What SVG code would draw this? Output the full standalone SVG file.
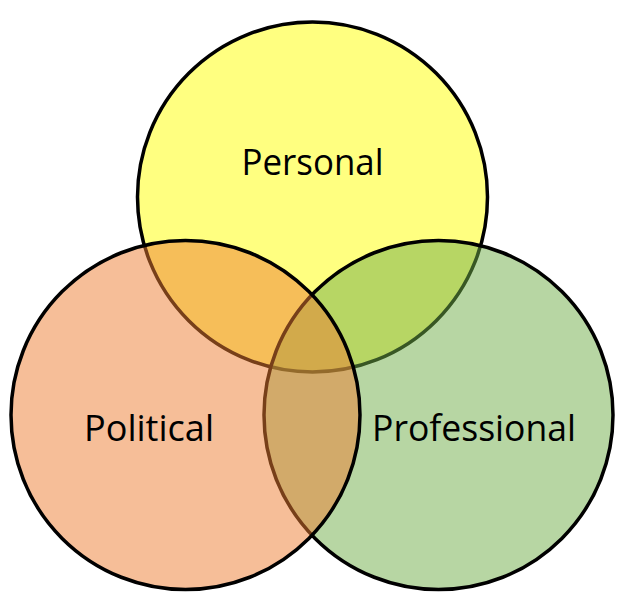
<svg xmlns="http://www.w3.org/2000/svg" width="628" height="614" viewBox="0 0 628 614">
<style>
.c{stroke:#000;stroke-width:3.5}
.t{font-family:"Open Sans","Noto Sans","Liberation Sans",sans-serif;font-size:37px;fill:#000;text-anchor:middle}
</style>
<rect width="628" height="614" fill="#fff"/>
<g id="personal">
<circle class="c" cx="312.5" cy="197" r="175" fill="#FFFF80"/>
</g>
<g id="professional">
<circle class="c" cx="438.5" cy="415" r="174.5" fill="#70AD47" fill-opacity="0.5"/>
</g>
<g id="political">
<circle class="c" cx="185.5" cy="415" r="174.5" fill="#ED7D31" fill-opacity="0.5"/>
</g>
<g id="labels">
<text class="t" x="312.5" y="175" textLength="142" lengthAdjust="spacingAndGlyphs">Personal</text>
<text class="t" x="149" y="441" textLength="130" lengthAdjust="spacingAndGlyphs">Political</text>
<text class="t" x="474" y="441" textLength="204" lengthAdjust="spacingAndGlyphs">Professional</text>
</g>
<g id="connectors"/>
</svg>
